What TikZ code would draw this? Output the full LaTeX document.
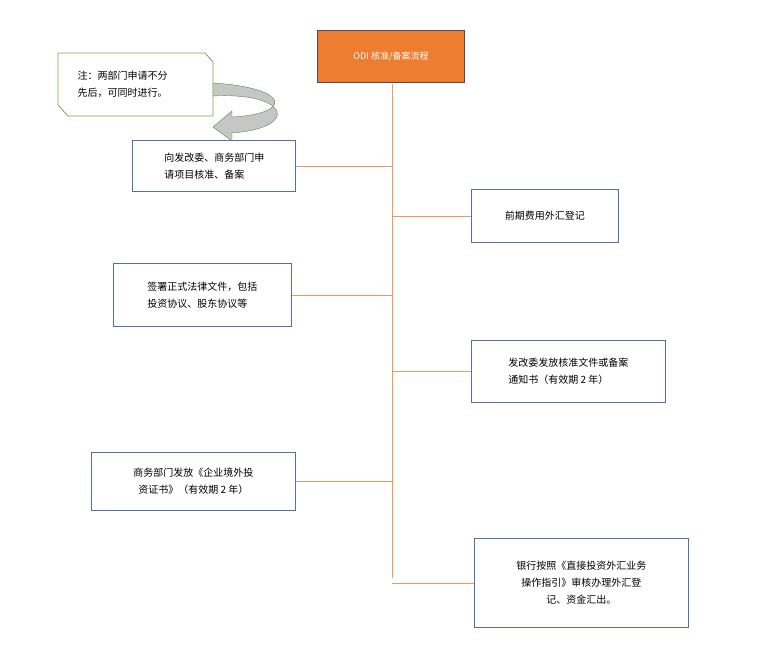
\documentclass[tikz,border=0pt]{standalone}
\usepackage{fontspec}
\setmainfont{Noto Sans CJK SC}
\usetikzlibrary{positioning}
\definecolor{odiorange}{HTML}{ED7D31}
\definecolor{boxblue}{HTML}{4F6FAD}
\definecolor{notegreen}{HTML}{70AD47}
\tikzstyle{stepbox}=[draw=boxblue,thick,fill=white,inner sep=0pt,font=\fontsize{10}{17}\selectfont,align=left]
\tikzstyle{link}=[draw=odiorange!80,thick]
\begin{document}
\begin{tikzpicture}[x=1pt,y=-1pt]
\useasboundingbox (0,0) rectangle (765,658);
% title and trunk
\node [draw=black!70,thick,fill=odiorange,minimum width=147pt,minimum height=52pt,text=white,font=\small] (title) at (391,56) {ODI 核准/备案流程};
\coordinate (top) at (392,84);
\coordinate (bot) at (392,578);
\draw [link] (top) -- (bot);
% note with curved arrow
\draw [notegreen,thick,fill=white] (58,53) -- (205,53) -- (213,62) -- (213,116) -- (68,116) -- (58,105) -- cycle;
\node [font=\fontsize{10}{17}\selectfont,align=left,anchor=west] (note) at (74,84) {注：两部门申请不分\\先后，可同时进行。};
\fill [gray!45,draw=notegreen!80!black] (213,83) .. controls (292,88) and (292,114) .. (232,117) -- (232,111) -- (213,127) -- (232,141) -- (232,133)
  .. controls (300,128) and (290,92) .. (213,96) -- cycle;
% steps
\node [stepbox,minimum width=163pt,minimum height=51pt,anchor=north west] (s1) at (132,140) {\hspace*{1pt}向发改委、商务部门申\\\hspace*{1pt}请项目核准、备案};
\node [stepbox,minimum width=147pt,minimum height=53pt,anchor=north west] (s2) at (471,189) {前期费用外汇登记};
\node [stepbox,minimum width=178pt,minimum height=63pt,anchor=north west] (s3) at (113,263) {签署正式法律文件，包括\\投资协议、股东协议等};
\node [stepbox,minimum width=194pt,minimum height=62pt,anchor=north west] (s4) at (471,340) {发改委发放核准文件或备案\\通知书（有效期 2 年）};
\node [stepbox,minimum width=204pt,minimum height=58pt,anchor=north west,align=center] (s5) at (91,452) {商务部门发放《企业境外投\\资证书》（有效期 2 年）};
\node [stepbox,minimum width=214pt,minimum height=89pt,anchor=north west,align=center] (s6) at (474,538) {银行按照《直接投资外汇业务\\操作指引》审核办理外汇登\\记、资金汇出。};
% connectors
\draw [link] (s1.east) -- (s1.east -| top);
\draw [link] (s2.west) -- (s2.west -| top);
\draw [link] (s3.east) -- (s3.east -| top);
\draw [link] (s4.west) -- (s4.west -| top);
\draw [link] (s5.east) -- (s5.east -| top);
\draw [link] (s6.west) -- (s6.west -| top);
\end{tikzpicture}
\end{document}
